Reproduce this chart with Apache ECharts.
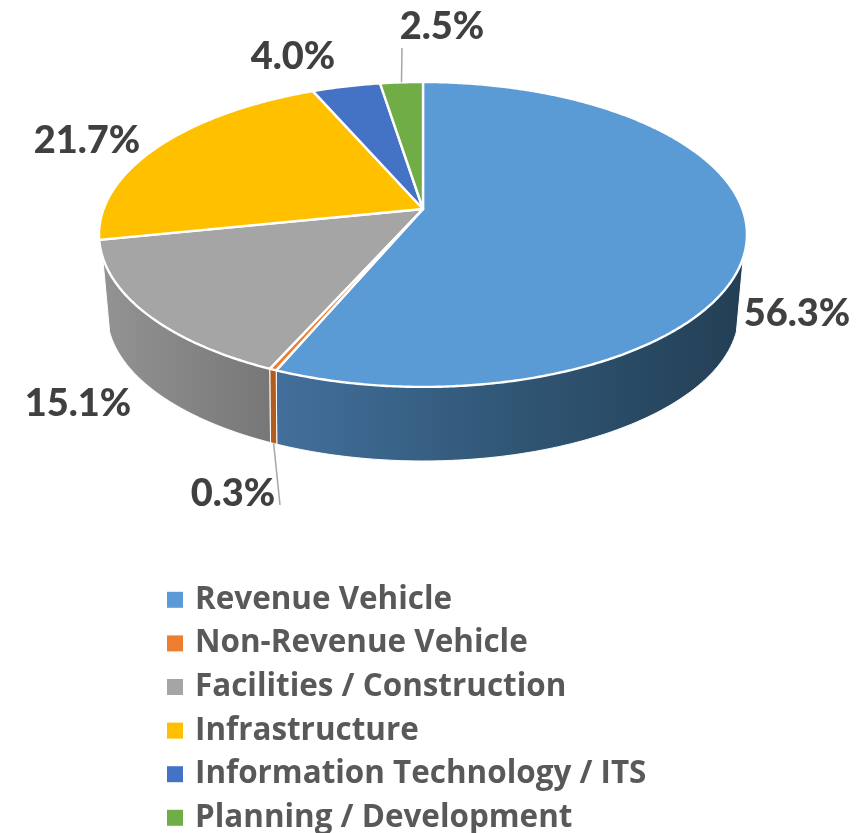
<!DOCTYPE html>
<html>
<head>
<meta charset="utf-8">
<script src="https://cdn.jsdelivr.net/npm/echarts@6/dist/echarts.min.js"></script>
<style>
  html, body { margin: 0; padding: 0; background: #fff; }
  #chart { width: 868px; height: 833px; }
</style>
</head>
<body>
<div id="chart"></div>
<script>
// Datos
const categories = ['Revenue Vehicle', 'Non-Revenue Vehicle', 'Facilities / Construction', 'Infrastructure', 'Information Technology / ITS', 'Planning / Development'];
const shares = [56.3, 0.3, 15.1, 21.7, 4.0, 2.5];

// Estilos
const colors = ['#5b9bd5', '#ed7d31', '#a5a5a5', '#ffc000', '#4472c4', '#70ad47'];
const sideStops = [
    [[0, '#426f9b'], [0.55, '#2f5472'], [1, '#233f55']],
    [[0, '#b25c20'], [1, '#b25c20']],
    [[0, '#939393'], [1, '#777777']],
    [[0, '#999'], [1, '#999']],
    [[0, '#999'], [1, '#999']],
    [[0, '#999'], [1, '#999']]
];
// Centro de cada etiqueta y fin de las lineas guia
const labelCenters = [[797, 314], [233, 494], [78, 404], [87, 141], [293, 57], [442, 27]];
const leaderEnds = [null, [280, 505], null, null, null, [402, 48]];

// Perspectiva de la tapa y de la base
const topFace = { cx: 423, cy: 209, a: 319.4, b: 148.2, k: -0.167 };
const baseFace = { cx: 423, cy: 284.8, a: 310.2, b: 142.7, k: -0.19 };
const sideFrom = 108;
const sideTo = 252;

const total = shares.reduce(function(s, v) { return s + v; }, 0);

function project(face, deg) {
    const t = deg * Math.PI / 180;
    const X = Math.sin(t), Y = -Math.cos(t);
    const d = 1 + face.k * Y;
    return [face.cx + face.a * X / d, face.cy + face.b * Y / d];
}

function arc(face, from, to) {
    const pts = [];
    const n = Math.max(2, Math.ceil(Math.abs(to - from) * 2));
    for (let i = 0; i <= n; i++) pts.push(project(face, from + (to - from) * i / n));
    return pts;
}

function renderSlice(index, startDeg) {
    return function(params, api) {
        const value = api.value(0);
        const endDeg = startDeg + value / total * 360;
        const children = [];

        // Lado visible
        const from = Math.max(startDeg, sideFrom), to = Math.min(endDeg, sideTo);
        if (to > from) {
            const outer = arc(topFace, from, to);
            const inner = arc(baseFace, from, to).reverse();
            const xs = outer.concat(inner).map(function(p) { return p[0]; });
            const x0 = Math.min.apply(null, xs), x1 = Math.max.apply(null, xs);
            children.push({
                type: 'polygon',
                shape: { points: outer.concat(inner) },
                style: {
                    fill: {
                        type: 'linear', x: x0, y: 0, x2: x1, y2: 0, global: true,
                        colorStops: sideStops[index].map(function(s) { return { offset: s[0], color: s[1] }; })
                    },
                    stroke: '#fff',
                    lineWidth: 1
                }
            });
        }

        // Tapa
        children.push({
            type: 'polygon',
            shape: { points: [[topFace.cx, topFace.cy]].concat(arc(topFace, startDeg, endDeg)) },
            style: { fill: colors[index], stroke: '#fff', lineWidth: 2.4, lineJoin: 'round' }
        });

        // Linea guia
        if (leaderEnds[index]) {
            const midDeg = (startDeg + endDeg) / 2;
            const rim = project(midDeg > sideFrom && midDeg < sideTo ? baseFace : topFace, midDeg);
            children.push({
                type: 'line',
                shape: { x1: rim[0], y1: rim[1], x2: leaderEnds[index][0], y2: leaderEnds[index][1] },
                style: { stroke: '#a6a6a6', lineWidth: 1.5 }
            });
        }

        // Etiqueta
        children.push({
            type: 'text',
            style: {
                text: value.toFixed(1) + '%',
                x: labelCenters[index][0],
                y: labelCenters[index][1],
                align: 'center',
                verticalAlign: 'middle',
                font: '900 38px Lato',
                fill: '#404040'
            }
        });

        return { type: 'group', children: children };
    };
}

function initPieChart() {
    const dom = document.getElementById('chart');
    const chart = echarts.init(dom);

    let acc = 0;
    const series = categories.map(function(name, i) {
        const startDeg = acc / total * 360;
        acc += shares[i];
        return {
            name: name,
            type: 'custom',
            coordinateSystem: 'none',
            animation: false,
            silent: true,
            z: i === 1 ? 3 : 2,
            itemStyle: { color: colors[i] },
            data: [[shares[i]]],
            renderItem: renderSlice(i, startDeg)
        };
    });

    chart.setOption({
        backgroundColor: '#fff',
        animation: false,
        color: colors,
        legend: {
            orient: 'vertical',
            left: 167,
            top: 581,
            width: 690,
            height: 400,
            padding: 0,
            icon: 'rect',
            itemWidth: 16,
            itemHeight: 16,
            itemGap: 6,
            data: categories,
            selectedMode: false,
            formatter: '{t|{name}}',
            textStyle: {
                rich: {
                    t: { fontFamily: 'Open Sans', fontWeight: 'bold', fontSize: 31.4, color: '#595959', height: 37.6, lineHeight: 37.6, padding: [0, 0, 0, 7] }
                }
            }
        },
        series: series
    });

    window.addEventListener('resize', function() {
        chart.resize();
    });
}

initPieChart();
</script>
</body>
</html>
